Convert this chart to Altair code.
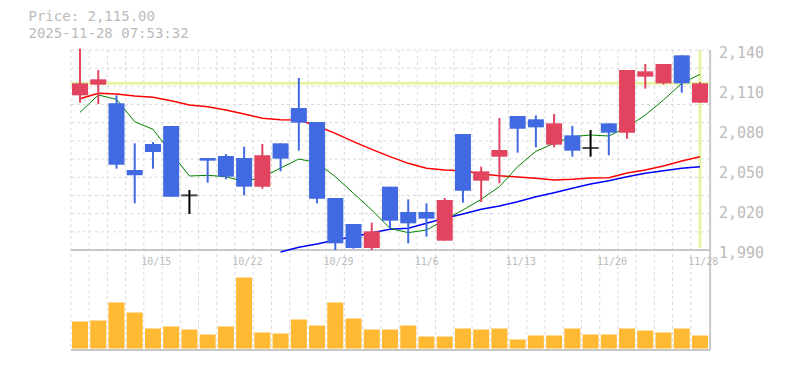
import altair as alt
import pandas as pd

# ---------------- data ----------------
dates = ["10/8", "10/9", "10/10", "10/14", "10/15", "10/16", "10/17", "10/20", "10/21",
         "10/22", "10/23", "10/24", "10/27", "10/28", "10/29", "10/30", "10/31", "11/4",
         "11/5", "11/6", "11/7", "11/10", "11/11", "11/12", "11/13", "11/14", "11/17",
         "11/18", "11/19", "11/20", "11/21", "11/25", "11/26", "11/27", "11/28"]
opens = [2106, 2114, 2100, 2050, 2069.5, 2083, 2031, 2059, 2060.5, 2059, 2037.5, 2070,
         2096.5, 2086, 2029, 2009.5, 1991.5, 2037.5, 2018.5, 2018.5, 1997, 2077, 2042,
         2060, 2090.5, 2088, 2069, 2076, 2066.5, 2085, 2078, 2120, 2115, 2136, 2100.5]
highs = [2141, 2125, 2106, 2070, 2071, 2083, 2035, 2059, 2062, 2067.5, 2069.5, 2070,
         2119, 2086, 2029, 2009.5, 2010.5, 2037.5, 2028, 2025, 2029, 2077, 2052.5,
         2089, 2090.5, 2091, 2092, 2083, 2080, 2085, 2125, 2129.5, 2129.5, 2136, 2116]
lows = [2100.5, 2099.5, 2051, 2025, 2051, 2030, 2017, 2040.5, 2043, 2031, 2036, 2049,
        2064.5, 2025, 1990, 1991, 1990, 2006, 1995, 2000, 1997, 2025.5, 2026,
        2040, 2063, 2067, 2067, 2060, 2060, 2061, 2073.5, 2111, 2114, 2108, 2100.5]
closes = [2115, 2118, 2054, 2046, 2063.5, 2030, 2031, 2057, 2045, 2037.5, 2061, 2058.5,
          2085.5, 2028.5, 1995, 1991.5, 2004, 2012, 2010, 2013.5, 2027.5, 2034.5, 2049,
          2065, 2081, 2082, 2085, 2064.5, 2066.5, 2078, 2125, 2124, 2129.5, 2115, 2115]
ma_short = [2093.25, 2106.25, 2103, 2086.25, 2080.5, 2063, 2045.5, 2046, 2045, 2041.25,
            2044.5, 2051.5, 2058.25, 2055.5, 2045, 2032.5, 2020, 2006.25, 2003, 2005,
            2012.5, 2020, 2028, 2037.5, 2052.5, 2064, 2070, 2075, 2076.25, 2075.5,
            2082, 2091.25, 2102.5, 2115, 2121.75]
ma_mid = [2103.5, 2107.5, 2107, 2105.5, 2104.5, 2102, 2098.75, 2097.5, 2095, 2092,
          2088.75, 2087.75, 2087.5, 2083, 2077.5, 2071.25, 2065.5, 2060, 2055, 2051.25,
          2050, 2049.5, 2047, 2045.75, 2044.75, 2043.75, 2042.5, 2043, 2044, 2044.25,
          2047.75, 2050, 2053, 2056.75, 2060]
ma_long = [None] * 11 + [1988.5, 1992, 1994.5, 1997.5, 2000, 2003, 2005.5, 2006.25, 2010,
                         2013.75, 2017, 2020.5, 2023, 2026.25, 2030, 2033, 2036.25, 2039.5,
                         2042, 2045, 2047.5, 2049.5, 2051.25, 2052.5]
volume = [27, 28, 46, 36, 20, 22, 19, 14, 22, 71, 16, 15, 29, 23, 46, 30, 19, 19,
          23, 12, 12, 20, 19, 20, 9, 13, 13, 20, 14, 14, 20, 18, 16, 20, 13]

price_ticks = [2140, 2110, 2080, 2050, 2020, 1990]
date_ticks = ["10/15", "10/22", "10/29", "11/6", "11/13", "11/20", "11/28"]
title_price = "Price: 2,115.00"
title_time = "2025-11-28 07:53:32"

# ---------------- layout / style ----------------
W, H = 769, 354
X0, X1 = 62.9, 701.1
PY0, PY1 = 42, 242
VY_TOP, VY_BASE, VY1 = 240.5, 340.5, 342
STEP = (X1 - X0) / len(dates)
RED, BLUE = "#e2445f", "#4169e1"
GRID = "#dadada"
FRAME = "#c8c8c8"
TXT = "#bbbbbb"
HILITE = "#e4f5a6"
MONO = "DejaVu Sans Mono"

price_scale = alt.Scale(domain=[1990, 2140], range=[PY1, PY0], zero=False, nice=False)
vol_scale = alt.Scale(domain=[0, 100], range=[VY_BASE, VY_TOP], nice=False)
x_scale = alt.Scale(domain=dates, range=[X0, X1], paddingInner=0.1226, paddingOuter=0.0613)
X = alt.X("date:O", scale=x_scale, axis=None)

df = pd.DataFrame({"date": dates, "open": opens, "high": highs, "low": lows,
                   "close": closes, "vol": volume,
                   "ma_s": ma_short, "ma_m": ma_mid, "ma_l": ma_long})
df["dir"] = ["up" if c > o else ("down" if c < o else "flat") for o, c in zip(opens, closes)]
one = pd.DataFrame({"a": [0]})

color = alt.Color("dir:N", scale=alt.Scale(domain=["up", "down", "flat"],
                                            range=[RED, BLUE, "#000000"]), legend=None)

grid_prices = pd.DataFrame({"p": [2140 - 150 * k / 11 for k in range(11)]})
hgrid = alt.Chart(grid_prices).mark_rule(strokeDash=[3, 3], color=GRID, strokeWidth=1).encode(
    y=alt.Y("p:Q", scale=price_scale, axis=None), x=alt.value(X0), x2=alt.value(X1))
vgrid = alt.Chart(df).mark_rule(strokeDash=[3, 3], color=GRID, strokeWidth=1,
                                xOffset=-STEP / 2).encode(
    x=X, y=alt.value(PY0), y2=alt.value(VY1))

frame_price = alt.Chart(one).mark_rule(color=FRAME, strokeWidth=2).encode(
    x=alt.value(X0), x2=alt.value(X1 + 1), y=alt.value(PY1))
frame_vol = alt.Chart(one).mark_rule(color=FRAME, strokeWidth=2).encode(
    x=alt.value(X0), x2=alt.value(X1 + 1), y=alt.value(VY1))
frame_right = alt.Chart(one).mark_rule(color=FRAME, strokeWidth=2).encode(
    x=alt.value(X1 + 1), y=alt.value(PY0), y2=alt.value(VY1))

last = df.iloc[[-1]]
hl_h = alt.Chart(last).mark_rule(color=HILITE, strokeWidth=3).encode(
    y=alt.Y("close:Q", scale=price_scale, axis=None), x=alt.value(X0), x2=alt.value(X1))
hl_v = alt.Chart(last).mark_rule(color=HILITE, strokeWidth=3).encode(
    x=X, y=alt.value(PY0), y2=alt.value(PY1 - 2))

line_l = alt.Chart(df).mark_line(color="#0000ff", strokeWidth=1.5).encode(
    x=X, y=alt.Y("ma_l:Q", scale=price_scale, axis=None))
line_m = alt.Chart(df).mark_line(color="#ff0000", strokeWidth=1.5).encode(
    x=X, y=alt.Y("ma_m:Q", scale=price_scale, axis=None))
line_s = alt.Chart(df).mark_line(color="#008000", strokeWidth=1).encode(
    x=X, y=alt.Y("ma_s:Q", scale=price_scale, axis=None))

wicks = alt.Chart(df).mark_rule(strokeWidth=2).encode(
    x=X, y=alt.Y("low:Q", scale=price_scale, axis=None), y2="high:Q", color=color)
bodies = alt.Chart(df).transform_filter("datum.dir != 'flat'").mark_bar().encode(
    x=X, y=alt.Y("open:Q", scale=price_scale, axis=None), y2="close:Q", color=color)
doji = alt.Chart(df).transform_filter("datum.dir == 'flat'").mark_tick(
    orient="horizontal", thickness=2, size=16, color="#000000").encode(
    x=X, y=alt.Y("close:Q", scale=price_scale, axis=None))

vols = alt.Chart(df).mark_bar(color="#ffb933").encode(
    x=X, y=alt.Y("vol:Q", scale=vol_scale, axis=None))

date_lbl = alt.Chart(pd.DataFrame({"date": date_ticks})).mark_text(
    align="left", baseline="middle", font=MONO, fontSize=10, color=TXT,
    xOffset=-STEP / 2 - 2.7).encode(x=X, y=alt.value(254), text="date:N")
price_lbl = alt.Chart(pd.DataFrame({"p": price_ticks})).mark_text(
    align="left", baseline="middle", font=MONO, fontSize=15, color=TXT, dy=3).encode(
    y=alt.Y("p:Q", scale=price_scale, axis=None), x=alt.value(711),
    text=alt.Text("p:Q", format=","))
title1 = alt.Chart(pd.DataFrame({"t": [title_price]})).mark_text(
    align="left", baseline="middle", font=MONO, fontSize=14, color=TXT).encode(
    x=alt.value(20.5), y=alt.value(9.2), text="t:N")
title2 = alt.Chart(pd.DataFrame({"t": [title_time]})).mark_text(
    align="left", baseline="middle", font=MONO, fontSize=14, color=TXT).encode(
    x=alt.value(20.5), y=alt.value(25.8), text="t:N")

chart = alt.layer(
    hgrid, vgrid, hl_h, hl_v, frame_price, frame_vol, frame_right,
    line_l, line_m, line_s, wicks, bodies, doji, vols,
    date_lbl, price_lbl, title1, title2,
).resolve_scale(y="independent").properties(
    width=W, height=H, padding=0,
    autosize=alt.AutoSizeParams(type="none"),
    background="white",
).configure_view(stroke=None)

chart.save("out.html", embed_options={"renderer": "svg", "actions": False})
